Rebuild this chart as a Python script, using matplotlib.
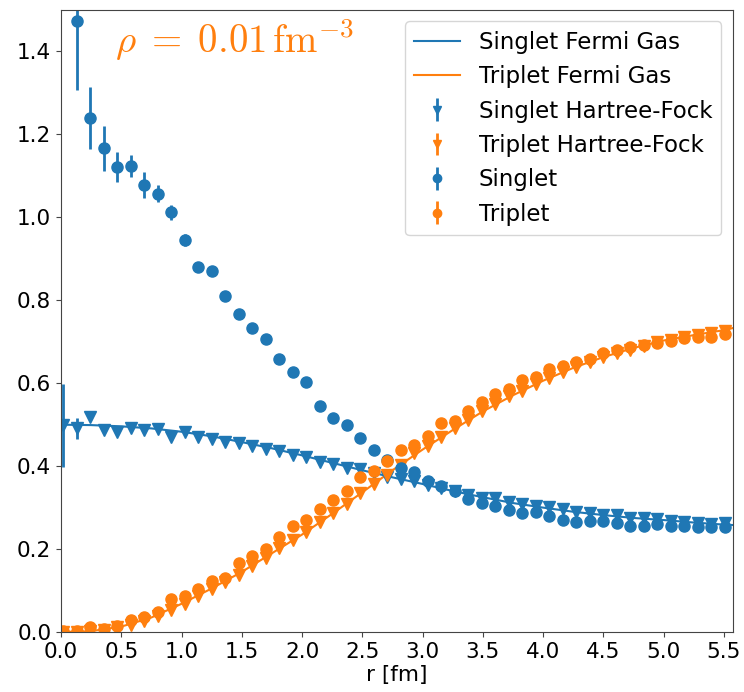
import numpy as np
import matplotlib
matplotlib.use("Agg")
import matplotlib.pyplot as plt

plt.rcParams["mathtext.fontset"] = "cm"

# radial grid of the sampled points [fm]
r = [0.020, 0.132, 0.244, 0.356, 0.468, 0.580, 0.692, 0.804, 0.916, 1.028,
     1.140, 1.252, 1.364, 1.476, 1.588, 1.700, 1.812, 1.924, 2.036, 2.148,
     2.260, 2.372, 2.484, 2.596, 2.708, 2.820, 2.932, 3.044, 3.156, 3.268,
     3.380, 3.492, 3.604, 3.716, 3.828, 3.940, 4.052, 4.164, 4.276, 4.388,
     4.500, 4.612, 4.724, 4.836, 4.948, 5.060, 5.172, 5.284, 5.396, 5.508]

singlet = [np.nan, 1.474, 1.239, 1.167, 1.121, 1.124, 1.078, 1.057, 1.012, 0.946,
           0.881, 0.871, 0.811, 0.766, 0.733, 0.706, 0.658, 0.628, 0.603, 0.544,
           0.516, 0.499, 0.467, 0.439, 0.414, 0.395, 0.387, 0.363, 0.353, 0.339,
           0.320, 0.312, 0.305, 0.294, 0.286, 0.289, 0.280, 0.270, 0.265, 0.268,
           0.268, 0.262, 0.256, 0.256, 0.260, 0.256, 0.256, 0.253, 0.253, 0.253]
singlet_err = [np.nan, 0.168, 0.075, 0.054, 0.036, 0.027, 0.031, 0.020, 0.018, 0.015,
               0.012, 0.010, 0.008, 0.008, 0.007, 0.006, 0.006, 0.005, 0.005, 0.005,
               0.004, 0.004, 0.004, 0.004, 0.004, 0.003, 0.003, 0.003, 0.003, 0.003,
               0.003, 0.003, 0.003, 0.003, 0.003, 0.003, 0.003, 0.003, 0.003, 0.003,
               0.003, 0.003, 0.003, 0.003, 0.003, 0.003, 0.003, 0.003, 0.003, 0.003]

triplet = [0.002, 0.003, 0.011, 0.007, 0.014, 0.029, 0.037, 0.049, 0.079, 0.086,
           0.104, 0.122, 0.130, 0.166, 0.183, 0.200, 0.229, 0.256, 0.270, 0.296,
           0.318, 0.341, 0.375, 0.388, 0.412, 0.439, 0.451, 0.473, 0.503, 0.510,
           0.532, 0.554, 0.573, 0.585, 0.608, 0.616, 0.634, 0.642, 0.652, 0.658,
           0.672, 0.680, 0.687, 0.692, 0.698, 0.702, 0.710, 0.711, 0.711, 0.719]
triplet_err = [0.002, 0.002, 0.003, 0.003, 0.003, 0.003, 0.003, 0.003, 0.003, 0.003,
               0.003, 0.003, 0.003, 0.003, 0.003, 0.003, 0.003, 0.003, 0.003, 0.003,
               0.003, 0.003, 0.003, 0.003, 0.003, 0.003, 0.003, 0.003, 0.003, 0.003,
               0.003, 0.003, 0.003, 0.003, 0.003, 0.003, 0.003, 0.003, 0.003, 0.003,
               0.003, 0.003, 0.003, 0.003, 0.003, 0.003, 0.003, 0.003, 0.003, 0.003]

singlet_hf = [0.499, 0.491, 0.518, 0.487, 0.482, 0.491, 0.486, 0.489, 0.471, 0.483,
              0.471, 0.465, 0.459, 0.457, 0.449, 0.441, 0.437, 0.427, 0.421, 0.411,
              0.405, 0.395, 0.393, 0.383, 0.374, 0.368, 0.365, 0.355, 0.347, 0.341,
              0.331, 0.323, 0.323, 0.313, 0.309, 0.305, 0.302, 0.296, 0.290, 0.286,
              0.282, 0.281, 0.276, 0.274, 0.272, 0.268, 0.266, 0.264, 0.261, 0.262]
singlet_hf_err = [0.100, 0.025, 0.006, 0.004, 0.004, 0.003, 0.003, 0.003, 0.003, 0.003,
                  0.002, 0.002, 0.002, 0.002, 0.002, 0.002, 0.002, 0.002, 0.002, 0.002,
                  0.002, 0.002, 0.002, 0.002, 0.002, 0.002, 0.002, 0.002, 0.002, 0.002,
                  0.002, 0.002, 0.002, 0.002, 0.002, 0.002, 0.002, 0.002, 0.002, 0.002,
                  0.002, 0.002, 0.002, 0.002, 0.002, 0.002, 0.002, 0.002, 0.002, 0.002]

triplet_hf = [0.000, 0.001, 0.003, 0.006, 0.011, 0.018, 0.027, 0.038, 0.053, 0.068,
              0.087, 0.103, 0.121, 0.138, 0.158, 0.178, 0.202, 0.222, 0.242, 0.266,
              0.286, 0.309, 0.335, 0.356, 0.378, 0.403, 0.431, 0.449, 0.471, 0.491,
              0.511, 0.532, 0.550, 0.568, 0.582, 0.598, 0.612, 0.627, 0.639, 0.652,
              0.664, 0.672, 0.680, 0.690, 0.700, 0.704, 0.712, 0.716, 0.721, 0.725]
triplet_hf_err = [0.001, 0.001, 0.002, 0.002, 0.002, 0.002, 0.002, 0.002, 0.002, 0.002,
                  0.002, 0.002, 0.002, 0.002, 0.002, 0.002, 0.002, 0.002, 0.002, 0.002,
                  0.002, 0.002, 0.002, 0.002, 0.002, 0.002, 0.002, 0.002, 0.002, 0.002,
                  0.002, 0.002, 0.002, 0.002, 0.002, 0.002, 0.002, 0.002, 0.002, 0.002,
                  0.002, 0.002, 0.002, 0.002, 0.002, 0.002, 0.002, 0.002, 0.002, 0.002]

# free Fermi gas curves
r_fg = [0.0, 0.25, 0.5, 0.75, 1.0, 1.25, 1.5, 1.75, 2.0, 2.25, 2.5, 2.75,
        3.0, 3.25, 3.5, 3.75, 4.0, 4.25, 4.5, 4.75, 5.0, 5.25, 5.5, 5.574]
singlet_fg = [0.500, 0.499, 0.496, 0.491, 0.483, 0.472, 0.458, 0.443, 0.426, 0.408,
              0.390, 0.373, 0.357, 0.340, 0.325, 0.311, 0.300, 0.290, 0.282, 0.275,
              0.270, 0.264, 0.259, 0.258]
triplet_fg = [0.000, 0.002, 0.013, 0.035, 0.068, 0.105, 0.145, 0.190, 0.235, 0.285,
              0.337, 0.390, 0.440, 0.487, 0.532, 0.571, 0.606, 0.637, 0.663, 0.685,
              0.703, 0.716, 0.728, 0.733]

fig = plt.figure(figsize=(7.44, 6.92), dpi=100)
ax = fig.add_axes([0.082, 0.0867, 0.903, 0.8988])

ax.plot(r_fg, singlet_fg, color="C0", lw=1.5, label="Singlet Fermi Gas")
ax.plot(r_fg, triplet_fg, color="C1", lw=1.5, label="Triplet Fermi Gas")
ax.errorbar(r, singlet_hf, yerr=singlet_hf_err, fmt="v", color="C0", ms=8,
            elinewidth=2, label="Singlet Hartree-Fock")
ax.errorbar(r, triplet_hf, yerr=triplet_hf_err, fmt="v", color="C1", ms=8,
            elinewidth=2, label="Triplet Hartree-Fock")
ax.errorbar(r, singlet, yerr=singlet_err, fmt="o", color="C0", ms=8,
            elinewidth=2, label="Singlet")
ax.errorbar(r, triplet, yerr=triplet_err, fmt="o", color="C1", ms=8,
            elinewidth=2, label="Triplet")

ax.text(0.45, 1.428, r"$\rho\;=\;0.01\,\mathrm{fm}^{-3}$", color="C1",
        fontsize=28, va="center", ha="left")

ax.set_xlim(0, 5.574)
ax.set_ylim(0, 1.5)
ax.set_xticks(np.arange(0, 5.51, 0.5))
ax.set_yticks(np.arange(0, 1.41, 0.2))
ax.tick_params(labelsize=15.5, color="#444444")
for sp in ax.spines.values():
    sp.set_color("#444444")
ax.set_xlabel("r [fm]", fontsize=15.5, labelpad=2)
ax.legend(loc="upper right", fontsize=16.5, markerscale=0.75)

fig.savefig("out.png", dpi=100)
